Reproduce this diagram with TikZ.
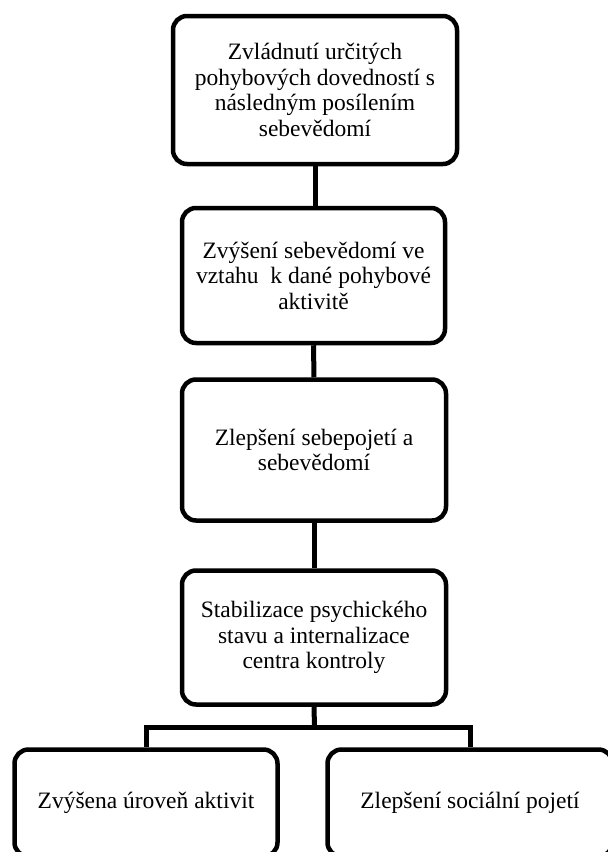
\documentclass[tikz,border=0pt]{standalone}
\usepackage{fontspec}
\setmainfont{Liberation Serif}
\usepackage{tikz}
\tikzset{stage/.style={draw=black, line width=4.5pt, rounded corners=14pt, fill=white, align=center, inner sep=0pt, font=\fontsize{23.5}{25.5}\selectfont}}
\tikzset{link/.style={draw=black, line width=5pt}}

\begin{document}
\begin{tikzpicture}[x=1pt, y=-1pt]
\useasboundingbox (0,0) rectangle (608,852);
\clip (0,0) rectangle (608,852);
\node[stage, minimum width=284pt, minimum height=148pt] (zvladnuti) at (315,90) {Zvládnutí určitých\\pohybových dovedností s\\následným posílením\\sebevědomí};
\node[stage, minimum width=263pt, minimum height=135pt] (zvyseni) at (313.5,275.5) {Zvýšení sebevědomí ve\\vztahu~ k dané pohybové\\aktivitě};
\node[stage, minimum width=264pt, minimum height=141pt] (zlepseni) at (314,450) {Zlepšení sebepojetí a\\sebevědomí};
\node[stage, minimum width=264pt, minimum height=134pt] (stabilizace) at (314,637.5) {Stabilizace psychického\\stavu a internalizace\\centra kontroly};
\node[stage, minimum width=263pt, minimum height=107pt] (aktivity) at (146,803) {Zvýšena úroveň aktivit};
\node[stage, minimum width=285pt, minimum height=107pt] (socialni) at (470,803) {Zlepšení sociální pojetí};
\coordinate (rozdel) at (314.5,727);

\draw[link] (zvladnuti.south) -- (zvladnuti.south |- zvyseni.north);
\draw[link] (zvyseni.south) -- (zlepseni.north);
\draw[link] (zlepseni.south) -- (stabilizace.north);
\draw[link] (stabilizace.south) -- (rozdel);
\draw[link] (aktivity.north) |- (rozdel) -| (socialni.north);
\end{tikzpicture}
\end{document}
